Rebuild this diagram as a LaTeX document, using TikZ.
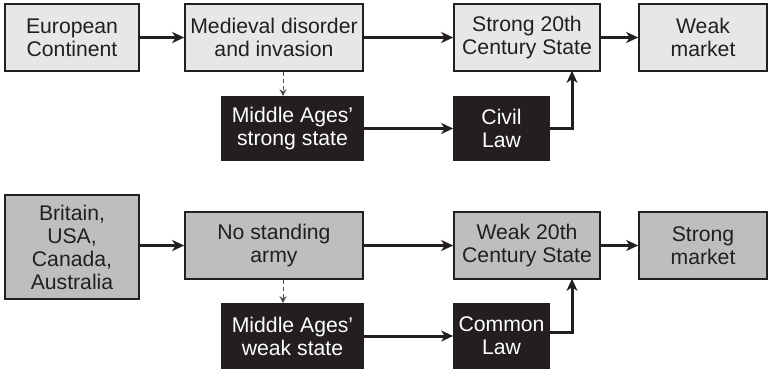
\documentclass[tikz,border=0pt]{standalone}
\usepackage{fontspec}
\setmainfont{Liberation Sans}
\usetikzlibrary{arrows.meta,calc}
\definecolor{ink}{HTML}{231F20}
\definecolor{lightbox}{HTML}{E6E7E8}
\definecolor{midbox}{HTML}{BCBEC0}
\begin{document}
\begin{tikzpicture}[x=1pt,y=-1pt,
  box/.style={draw=ink,line width=1.6pt,inner sep=0pt,align=center,
    font=\fontsize{21.2}{23}\selectfont,text=ink},
  lbox/.style={box,fill=lightbox},
  gbox/.style={box,fill=midbox},
  bbox/.style={box,fill=ink,text=white},
  thick arrow/.style={draw=ink,line width=3pt,-{Stealth[length=12pt,width=11pt,inset=3.5pt]}},
  dash arrow/.style={draw=ink!80,line width=1pt,dash pattern=on 4pt off 3pt,-{Stealth[length=7pt,width=7pt]}}]
\useasboundingbox (0,0) rectangle (769,370);
% top row
\node[lbox,minimum width=134pt,minimum height=67pt] (eu) at (72,37.5) {European\\Continent};
\node[lbox,minimum width=178pt,minimum height=67pt] (med) at (274,37.5) {Medieval disorder\\and invasion};
\node[lbox,minimum width=146pt,minimum height=67pt] (s20) at (527,37.5) {Strong 20th\\Century State};
\node[lbox,minimum width=128pt,minimum height=67pt] (wm) at (703,37.5) {Weak\\market};
\node[bbox,minimum width=141pt,minimum height=63pt] (mas) at (292.5,128.5) {Middle Ages'\\strong state};
\node[bbox,minimum width=95pt,minimum height=63pt] (civ) at (501.5,128.5) {Civil\\Law};
% bottom row
\node[gbox,minimum width=134pt,minimum height=104pt] (bri) at (72,247) {Britain,\\USA,\\Canada,\\Australia};
\node[gbox,minimum width=178pt,minimum height=67pt] (nsa) at (274,245.5) {No standing\\army};
\node[gbox,minimum width=146pt,minimum height=67pt] (w20) at (527,245.5) {Weak 20th\\Century State};
\node[gbox,minimum width=128pt,minimum height=67pt] (sm) at (703,245.5) {Strong\\market};
\node[bbox,minimum width=141pt,minimum height=64pt] (maw) at (292.5,336) {Middle Ages'\\weak state};
\node[bbox,minimum width=95pt,minimum height=64pt] (com) at (501.5,336) {Common\\Law};
% arrows top
\draw[thick arrow] (eu.east) -- (med.west);
\draw[thick arrow] (med.east) -- (s20.west);
\draw[thick arrow] (s20.east) -- (wm.west);
\draw[thick arrow] (mas.east) -- (civ.west);
\draw[thick arrow] (civ.east) -| ([xshift=45pt,yshift=1pt]s20.south);
\draw[dash arrow] ([xshift=9pt]med.south) -- ([xshift=9pt]med.south |- mas.north);
% arrows bottom
\draw[thick arrow] (bri.east |- nsa.west) -- (nsa.west);
\draw[thick arrow] (nsa.east) -- (w20.west);
\draw[thick arrow] (w20.east) -- (sm.west);
\draw[thick arrow] (maw.east) -- (com.west);
\draw[thick arrow] ([yshift=4pt]com.east) -| ([xshift=45pt,yshift=1pt]w20.south);
\draw[dash arrow] ([xshift=9pt]nsa.south) -- ([xshift=9pt]nsa.south |- maw.north);
\end{tikzpicture}
\end{document}
